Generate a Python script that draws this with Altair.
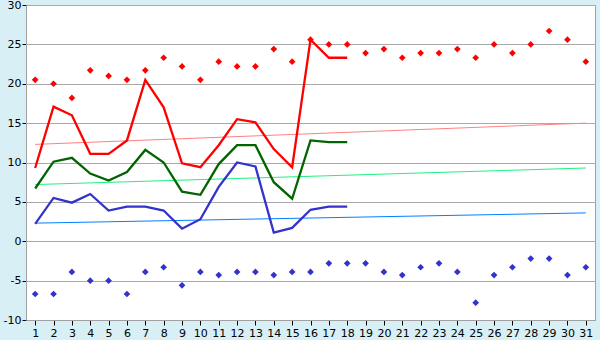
import altair as alt
import pandas as pd

days = list(range(1, 32))

max_pts = [20.5, 20.0, 18.2, 21.7, 21.0, 20.5, 21.7, 23.3, 22.2, 20.5,
           22.8, 22.2, 22.2, 24.4, 22.8, 25.6, 25.0, 25.0, 23.9, 24.4,
           23.3, 23.9, 23.9, 24.4, 23.3, 25.0, 23.9, 25.0, 26.7, 25.6, 22.8]
min_pts = [-6.7, -6.7, -3.9, -5.0, -5.0, -6.7, -3.9, -3.3, -5.6, -3.9,
           -4.3, -3.9, -3.9, -4.3, -3.9, -3.9, -2.8, -2.8, -2.8, -3.9,
           -4.3, -3.3, -2.8, -3.9, -7.8, -4.3, -3.3, -2.2, -2.2, -4.3, -3.3]

line_days = list(range(1, 19))
red_line = [9.3, 17.1, 16.0, 11.1, 11.1, 12.8, 20.5, 17.0, 9.9, 9.4,
            12.2, 15.5, 15.1, 11.7, 9.4, 25.6, 23.3, 23.3]
green_line = [6.7, 10.1, 10.6, 8.6, 7.7, 8.8, 11.6, 10.0, 6.3, 5.9,
              9.8, 12.2, 12.2, 7.5, 5.4, 12.8, 12.6, 12.6]
blue_line = [2.2, 5.5, 4.9, 6.0, 3.9, 4.4, 4.4, 3.9, 1.6, 2.8,
             6.9, 10.0, 9.5, 1.1, 1.7, 4.0, 4.4, 4.4]

trend_days = [1, 31]
red_trend = [12.3, 15.0]
green_trend = [7.2, 9.3]
blue_trend = [2.3, 3.6]

pts_df = pd.DataFrame({"day": days, "max": max_pts, "min": min_pts})
lines_df = pd.DataFrame({"day": line_days, "red": red_line, "green": green_line, "blue": blue_line})
trend_df = pd.DataFrame({"day": trend_days, "red": red_trend, "green": green_trend, "blue": blue_trend})

FONT = "DejaVu Sans"
xscale = alt.Scale(domain=[0.5, 31.5], nice=False, zero=False)
yscale = alt.Scale(domain=[-10, 30], nice=False, zero=False)

xaxis = alt.Axis(values=days, title=None, grid=False, labelFontSize=11, labelFont=FONT,
                 labelColor="#000000", tickColor="#000000", tickSize=5, domainColor="#a0a0a0",
                 labelPadding=2, labelFlush=False)
yaxis = alt.Axis(values=list(range(-10, 31, 5)), title=None, grid=True, gridColor="#aaaaaa",
                 labelFontSize=11, labelFont=FONT, labelColor="#000000", tickColor="#000000",
                 tickSize=4, domainColor="#a0a0a0", labelPadding=1, labelFlush=False,
                 labelExpr="datum.value < 0 ? '-' + abs(datum.value) : '' + datum.value")

X = alt.X("day:Q", scale=xscale, axis=xaxis)


def yenc(col):
    return alt.Y(f"{col}:Q", scale=yscale, axis=yaxis)


base_pts = alt.Chart(pts_df)
base_lines = alt.Chart(lines_df)
base_trend = alt.Chart(trend_df)

layers = [
    base_trend.mark_line(color="#ff8080", strokeWidth=1).encode(x=X, y=yenc("red")),
    base_trend.mark_line(color="#20f080", strokeWidth=1).encode(x=X, y=yenc("green")),
    base_trend.mark_line(color="#0080ff", strokeWidth=1).encode(x=X, y=yenc("blue")),
    base_lines.mark_line(color="#ff0000", strokeWidth=2.3).encode(x=X, y=yenc("red")),
    base_lines.mark_line(color="#006400", strokeWidth=2.3).encode(x=X, y=yenc("green")),
    base_lines.mark_line(color="#3333cc", strokeWidth=2.3).encode(x=X, y=yenc("blue")),
    base_pts.mark_point(shape="diamond", filled=True, size=45, color="#ff0000", opacity=1).encode(x=X, y=yenc("max")),
    base_pts.mark_point(shape="diamond", filled=True, size=45, color="#3333cc", opacity=1).encode(x=X, y=yenc("min")),
]

chart = alt.layer(*layers).properties(
    width=569, height=315,
    background="#d9eff6",
    padding={"left": 26, "top": 5, "right": 5, "bottom": 20},
    autosize=alt.AutoSizeParams(type="none"),
).configure_view(fill="#ffffff", stroke="#a0a0a0", strokeWidth=1)

chart.save("out.html", embed_options={"renderer": "svg", "actions": False})
